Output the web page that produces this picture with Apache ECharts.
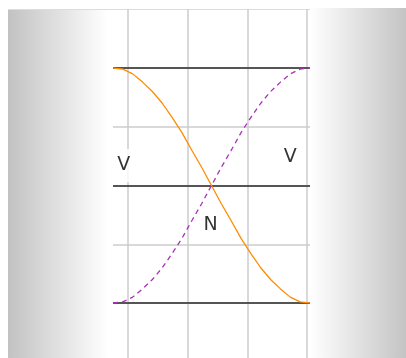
<!DOCTYPE html>
<html><head><meta charset="utf-8">
<script src="https://cdn.jsdelivr.net/npm/echarts@6/dist/echarts.min.js"></script>
<style>html,body{margin:0;padding:0;background:#fff}#c{width:406px;height:358px}</style>
</head><body><div id="c"></div>
<script>
var xValues = [0,1,2,3,4,5,6,7,8,9,10,11,12,13,14,15,16,17,18,19,20];
var orangeValues = [1.0,0.99,0.95,0.88,0.80,0.70,0.58,0.45,0.30,0.155,0,-0.155,-0.30,-0.45,-0.58,-0.70,-0.80,-0.88,-0.95,-0.99,-1.0];
var purpleValues = [-1.0,-0.99,-0.95,-0.88,-0.80,-0.70,-0.58,-0.45,-0.30,-0.155,0,0.155,0.30,0.45,0.58,0.70,0.80,0.88,0.95,0.99,1.0];
var darkLevels = [-1, 0, 1];
var labelTexts = ['V','V','N'];
var labelX = [1.1, 18, 9.9];
var labelY = [0.17, 0.24, -0.34];

var chart = echarts.init(document.getElementById('c'));
function pairs(vals){ return xValues.map(function(x,i){return [x, vals[i]];}); }
chart.setOption({
  animation:false,
  graphic:[
    {type:'rect', z:-10, shape:{x:8,y:9,width:100,height:349}, style:{fill:new echarts.graphic.LinearGradient(0,0,1,0,[{offset:0,color:'#c2c2c2'},{offset:1,color:'#ffffff'}])}},
    {type:'rect', z:-10, shape:{x:310,y:8,width:96,height:350}, style:{fill:new echarts.graphic.LinearGradient(0,0,1,0,[{offset:0,color:'#ffffff'},{offset:1,color:'#c4c4c4'}])}},
    {type:'line', z:-9, shape:{x1:8,y1:9.5,x2:310,y2:9.5}, style:{stroke:'#dddddd',lineWidth:1}}
  ],
  grid:[
    {left:113,right:96,top:68,bottom:55},
    {left:128,right:99,top:9,bottom:0}
  ],
  xAxis:[
    {type:'value',gridIndex:0,min:0,max:20,axisLine:{show:false},axisTick:{show:false},axisLabel:{show:false},splitLine:{show:false}},
    {type:'value',gridIndex:1,min:0,max:3,interval:1,axisLine:{show:false},axisTick:{show:false},axisLabel:{show:false},splitLine:{show:true,lineStyle:{color:'#cccccc',width:1.5}}}
  ],
  yAxis:[
    {type:'value',gridIndex:0,min:-1,max:1,interval:0.5,axisLine:{show:false},axisTick:{show:false},axisLabel:{show:false},splitLine:{show:true,lineStyle:{color:'#cccccc',width:1.5}}},
    {type:'value',gridIndex:1,min:0,max:1,show:false,splitLine:{show:false}}
  ],
  series:[
    {type:'line',xAxisIndex:1,yAxisIndex:1,data:[],silent:true},
    {type:'line',xAxisIndex:0,yAxisIndex:0,data:pairs(orangeValues),showSymbol:false,symbol:'none',lineStyle:{color:'#ff8c00',width:1.3},z:5,
      markLine:{silent:true,symbol:'none',label:{show:false},lineStyle:{color:'#555555',width:2,type:'solid'},
        data:darkLevels.map(function(v){return {yAxis:v};})}},
    {type:'line',xAxisIndex:0,yAxisIndex:0,data:pairs(purpleValues),showSymbol:false,symbol:'none',lineStyle:{color:'#a832b8',width:1.3,type:[5,4]},z:5},
    {type:'scatter',xAxisIndex:0,yAxisIndex:0,symbolSize:1,itemStyle:{color:'rgba(0,0,0,0)'},z:10,
      data:labelTexts.map(function(t,i){return [labelX[i],labelY[i],t];}),
      label:{show:true,position:'inside',formatter:function(p){return p.value[2];},color:'#000000',textBorderWidth:0,fontSize:19,fontFamily:'DejaVu Sans',backgroundColor:'#fff',padding:[7,2,7,2]}}
  ]
});
</script></body></html>
